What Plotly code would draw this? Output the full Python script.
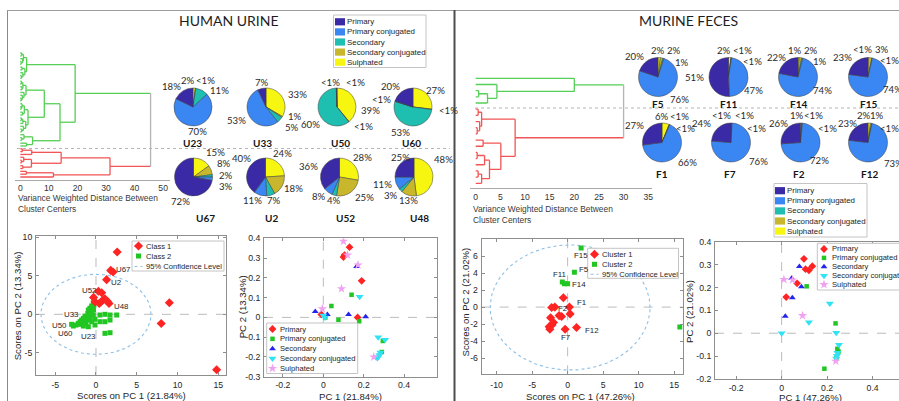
import numpy as np
import plotly.graph_objects as go

W, H = 899, 401

# ---------------- bile acid class composition (%) ----------------
classes = ["Primary", "Primary conjugated", "Secondary",
           "Secondary conjugated", "Sulphated"]
class_colors = ["#3b2aa6", "#3a87f3", "#1ebfb1", "#c8b72d", "#f6f610"]

urine_ids = ["U23", "U33", "U50", "U60", "U67", "U2", "U52", "U48"]
urine_pct = [
    [18, 70, 11, 0.4, 2],
    [7, 53, 5, 1, 33],
    [0.3, 0.3, 60, 0.3, 39],
    [20, 0.3, 53, 0.3, 27],
    [72, 3, 2, 8, 15],
    [40, 11, 7, 18, 24],
    [36, 8, 4, 25, 28],
    [25, 11, 3, 13, 48],
]
feces_ids = ["F5", "F11", "F14", "F15", "F1", "F7", "F2", "F12"]
feces_pct = [
    [20, 76, 1, 2, 2],
    [51, 47, 0.3, 0.3, 2],
    [22, 74, 1, 2, 1],
    [23, 74, 0.3, 3, 0.3],
    [27, 66, 0.3, 0.3, 6],
    [24, 76, 0.3, 0.3, 0.3],
    [26, 72, 0.3, 0.3, 1],
    [23, 73, 0.3, 1, 2],
]

# ---------------- hierarchical clustering: [merge distance, upper, lower] ----------------
o = None  # a single sample
urine_tree = [45.6,
              [19.2,
               [2.2, [1.1, [0.5, o, o], [0.8, o, [0.3, o, o]]],
                     [1.6, [0.6, o, o], [0.9, o, [0.4, o, o]]]],
               [13.9,
                [8.4,
                 [2.0, [0.9, [0.4, o, o], [0.6, o, o]], [1.3, o, [0.7, o, [0.3, o, o]]]],
                 [2.7, [1.4, [0.6, o, [0.3, o, o]], [0.8, o, o]],
                       [1.9, [0.9, [0.4, o, o], o], [1.1, o, [0.5, o, o]]]]],
                [4.3, [1.3, o, [0.5, o, o]], [2.2, o, o]]]],
              [31.4,
               [14.3, [4.0, [0.7, o, o], o], [3.9, [1.2, o, [0.4, o, o]], [0.9, o, o]]],
               [11.6, [2.1, o, o], o]]]
feces_tree = [30.0,
              [20.0, o, [4.3, o, [2.4, [0.6, o, o], o]]],
              [8.0,
               [1.2, [0.5, o, o], [0.8, o, [0.3, o, o]]],
               [5.1, [1.5, o, o], [2.8, [1.8, [0.3, o, o], o], [1.2, [0.5, o, o], o]]]]]

urine_dendro_ticks = [0, 10, 20, 30, 40, 50]
feces_dendro_ticks = [0, 5, 10, 15, 20, 25, 30, 35]

# ---------------- PCA scores ----------------
urine_class1_pc1 = [2.6, 1.8, 2.1, 1.3, 0.3, 0.7, -0.3, -0.1, 0.6, 0.9, 1.1, 1.4, 1.6, 0.4, 9.0, 8.0, 14.8]
urine_class1_pc2 = [8.1, 5.7, 5.5, 4.5, 3.0, 2.8, 2.2, 1.6, 1.6, 1.9, 2.0, 1.7, 1.4, 1.4, 1.5, -1.2, -7.2]
urine_class2_pc1 = [-0.33, -0.53, -0.74, -0.94, -0.41, -0.25, -0.61, -0.82, -1.14, -1.35, -1.55, -1.76,
                    -1.96, -2.17, -2.45, -2.78, -2.99, -1.06, -0.74, -0.33, -1.23, -0.94, -1.55, -0.53,
                    -0.12, 0.49, 1.10, 1.72, 2.54, 0.49, 1.10, 1.72, -0.12, 1.10, 1.72,
                    -0.5, -1.0, -0.7, -1.3, -2.0, -1.8, -0.3]
urine_class2_pc2 = [1.51, 1.08, 0.78, 0.56, 0.91, 1.21, 0.34, 0.04, -0.31, -0.22, -0.52, -0.74,
                    -0.96, -1.17, -1.39, -1.52, -1.30, -0.74, -0.52, -0.09, -1.17, -1.61, -1.52, -0.96,
                    -0.65, -0.09, 0.0, -0.09, -0.09, -0.96, -0.96, -0.74, -1.39, -2.47, -2.39,
                    0.3, 0.1, -0.2, -0.8, -1.3, -1.0, 0.6]
urine_ellipse = dict(cx=0.0, cy=0.0, a=6.75, b=5.2)
urine_score_xticks = [-5, 0, 5, 10, 15]
urine_score_yticks = [-5, 0, 5, 10]
urine_tags = ["U67", "U2", "U52", "U48", "U33", "U50", "U60", "U23"]

feces_cluster1_pc1 = [-0.6, -2.25, -1.8, 0.25, 0.35, -1.2, -0.85, -2.4, -2.0, -2.2, -2.6, -2.5, -0.35, 1.25]
feces_cluster1_pc2 = [1.1, -0.05, 0.0, 0.0, -0.8, -1.0, -1.1, -1.25, -1.8, -2.1, -2.3, -2.6, -2.6, -2.4]
feces_cluster2_pc1 = [1.9, 0.95, -0.75, -0.45, 0.0, 15.8]
feces_cluster2_pc2 = [6.95, 4.1, 2.95, 2.75, 2.75, -2.35]
feces_ellipse = dict(cx=0.35, cy=-0.05, a=11.25, b=7.35)
feces_score_xticks = [-10, -5, 0, 5, 10, 15]
feces_score_yticks = [-6, -4, -2, 0, 2, 4, 6]
feces_tags = ["F15", "F5", "F11", "F14", "F1", "F2", "F12", "F7"]

# ---------------- PCA loadings ----------------
urine_load = {
    "Primary": ([0.13, 0.105, 0.10, 0.19, -0.01, 0.17],
                [0.355, 0.315, 0.305, 0.185, 0.015, 0.0]),
    "Primary conjugated": ([0.14, 0.04, 0.01, 0.075, 0.178, 0.295, 0.29],
                           [0.115, 0.058, 0.0, -0.012, -0.02, -0.12, -0.175]),
    "Secondary": ([0.165, -0.04, 0.02, 0.125, 0.21],
                  [0.258, 0.03, 0.015, 0.015, 0.003]),
    "Secondary conjugated": ([0.18, 0.0, 0.008, 0.272, 0.306, 0.283, 0.278, 0.272, 0.268],
                             [0.105, 0.01, 0.0, -0.1, -0.113, -0.178, -0.19, -0.2, -0.205]),
    "Sulphated": ([0.1, 0.12, 0.172, 0.09, -0.005, 0.25],
                  [0.385, 0.315, 0.265, 0.145, 0.043, -0.2]),
}
feces_load = {
    "Primary": ([0.098, 0.105, 0.12, 0.135, 0.068, 0.02],
                [0.325, 0.28, 0.275, 0.293, 0.218, 0.158]),
    "Primary conjugated": ([0.11, 0.237, 0.245, 0.25, 0.24, 0.188],
                           [0.205, 0.043, -0.068, -0.08, -0.11, -0.155]),
    "Secondary": ([0.078, 0.044, 0.087, 0.047, 0.016],
                  [0.292, 0.24, 0.203, 0.155, 0.074]),
    "Secondary conjugated": ([0.212, 0.12, 0.0, 0.24, 0.252, 0.245, 0.243, 0.24],
                             [0.13, 0.048, 0.0, 0.002, -0.05, -0.085, -0.098, -0.11]),
    "Sulphated": ([0.01, 0.048, 0.092, 0.238],
                  [0.235, 0.233, 0.077, -0.122]),
}
load_xticks = [-0.2, 0, 0.2, 0.4]
urine_load_yticks = [-0.3, -0.2, -0.1, 0, 0.1, 0.2, 0.3, 0.4]
feces_load_yticks = [-0.2, -0.1, 0, 0.1, 0.2, 0.3, 0.4]

# ---------------- styling ----------------
SANS = "Liberation Sans, Arial, sans-serif"
CAL = "Lato, Open Sans, sans-serif"
AX = "#8e8e8e"
TXT = "#262626"
GRAY = "#b4b4b4"

class1_mark = dict(symbol="diamond", size=7, color="#ff2424", line=dict(width=0))
class2_mark = dict(symbol="square", size=5, color="#22c622", line=dict(width=0))
load_marks = {
    "Primary": dict(symbol="diamond", size=6, color="#ff2424", line=dict(width=0)),
    "Primary conjugated": dict(symbol="square", size=4.5, color="#22c622", line=dict(width=0)),
    "Secondary": dict(symbol="triangle-up", size=6, color="#2424f0", line=dict(width=0)),
    "Secondary conjugated": dict(symbol="triangle-down", size=7, color="#30e2f2", line=dict(width=0)),
    "Sulphated": dict(symbol="star", size=7, color="#f0a2f0", line=dict(width=0)),
}

# percentage-label placement: small offsets (px) for some labels ...
label_nudge = {
    ("U50", 4): (0, 12), ("U50", 2): (5, 9),
    ("U60", 4): (-6, 0), ("U60", 2): (-8, 1),
    ("U67", 0): (14, 9),
    ("U2", 0): (8, -11), ("U2", 4): (-10, -5), ("U2", 3): (-4, 0), ("U2", 1): (-7, 0),
    ("U52", 4): (-6, -4),
    ("U48", 0): (12, -2), ("U48", 4): (-6, -16),
    ("F11", 1): (-11, 12),
    ("F14", 0): (5, 0), ("F15", 0): (5, 0), ("F12", 0): (5, 0), ("F2", 0): (12, -2),
    ("F7", 0): (2, 0),
    ("F14", 1): (0, -8), ("F15", 1): (0, -8), ("F2", 1): (-9, 0),
}
# ... and fixed label centres (px) for the crowded thin slices near 12 o'clock
label_at = {
    ("U23", 4): (187, 80), ("U23", 3): (204.5, 80), ("U23", 2): (218.5, 91),
    ("U50", 0): (354, 82), ("U50", 1): (329, 82),
    ("F5", 4): (657, 50.7), ("F5", 3): (672.5, 50.7), ("F5", 2): (681, 62.7),
    ("F11", 4): (723, 50.7), ("F11", 3): (741.5, 50.7), ("F11", 2): (751, 61.8),
    ("F14", 4): (793.5, 50), ("F14", 3): (810, 50), ("F14", 2): (819, 61.7),
    ("F15", 4): (861.5, 49), ("F15", 3): (880.5, 49), ("F15", 2): (888.5, 60),
    ("F1", 4): (661, 117), ("F1", 3): (678, 117), ("F1", 2): (684.5, 128),
    ("F7", 4): (720.5, 115), ("F7", 3): (743.5, 115), ("F7", 2): (755.5, 128),
    ("F2", 4): (795.5, 115), ("F2", 3): (812.5, 115), ("F2", 2): (826, 128),
    ("F12", 4): (863, 115), ("F12", 3): (876, 115), ("F12", 2): (888.5, 128),
}

fig = go.Figure()
shapes, anns, axes = [], [], {}


def aref(n):
    return ("x" if n == 1 else f"x{n}"), ("y" if n == 1 else f"y{n}")


def akey(n):
    return ("xaxis" if n == 1 else f"xaxis{n}"), ("yaxis" if n == 1 else f"yaxis{n}")


def xdom(p0, p1):
    return [p0 / W, p1 / W]


def ydom(top, bottom):
    return [1 - bottom / H, 1 - top / H]


def text(x, y, s, size, family=SANS, color=TXT, xanchor="center", yanchor="middle",
         angle=0, bold=False, xref="paper", yref="paper"):
    if xref == "paper":
        x = x / W
    if yref == "paper":
        y = 1 - y / H
    anns.append(dict(x=x, y=y, xref=xref, yref=yref, text=f"<b>{s}</b>" if bold else s,
                     showarrow=False, font=dict(family=family, size=size, color=color),
                     xanchor=xanchor, yanchor=yanchor, textangle=angle, borderpad=0))


def seg(x0, y0, x1, y1, color, width=1, dash="solid"):
    shapes.append(dict(type="line", xref="paper", yref="paper", x0=x0 / W, x1=x1 / W,
                       y0=1 - y0 / H, y1=1 - y1 / H, line=dict(color=color, width=width, dash=dash)))


# ---------------- dendrograms ----------------
def dendro_segments(tree, palette):
    thr = 0.7 * tree[0]
    segs, count, idx = {}, [0], [0]

    def add(color, xs, ys):
        X, Y = segs.setdefault(color, ([], []))
        X.extend(xs + [None])
        Y.extend(ys + [None])

    def walk(node, color):
        if node is None:
            y = count[0]
            count[0] += 1
            return y, 0.0, color or GRAY
        h = node[0]
        if color is None and h <= thr:
            color = palette[idx[0]]
            idx[0] += 1
        mine = color or GRAY
        kids = [walk(ch, color) for ch in node[1:]]
        for yc, hc, cc in kids:
            add(cc, [hc, h], [yc, yc])
        add(mine, [h, h], [kids[0][0], kids[-1][0]])
        return (kids[0][0] + kids[-1][0]) / 2, h, mine

    walk(tree, None)
    return segs, count[0]


def draw_dendro(n, tree, xpx, ypx, x_zero_px, px_per_unit, leaf_px, ticks):
    rx, ry = aref(n)
    kx, ky = akey(n)
    segs, nleaf = dendro_segments(tree, ["#55cf55", "#f25555"])
    for color, (xs, ys) in segs.items():
        fig.add_trace(go.Scatter(x=xs, y=ys, mode="lines", line=dict(color=color, width=1.3),
                                 xaxis=rx, yaxis=ry, hoverinfo="skip"))
    axes[kx] = dict(domain=xdom(*xpx), anchor=ry,
                    range=[(xpx[0] - x_zero_px) / px_per_unit, (xpx[1] - x_zero_px) / px_per_unit],
                    showline=True, linecolor="#a8a8a8", linewidth=1, ticks="", showgrid=False,
                    zeroline=False, tickvals=ticks, ticktext=[str(t) for t in ticks],
                    tickfont=dict(family=SANS, size=8.6, color="#333"), fixedrange=True)
    ppl = (leaf_px[1] - leaf_px[0]) / (nleaf - 1)
    axes[ky] = dict(domain=ydom(*ypx), anchor=rx, visible=False, fixedrange=True,
                    range=[nleaf - 1 + (ypx[1] - leaf_px[1]) / ppl, -(leaf_px[0] - ypx[0]) / ppl])


draw_dendro(1, urine_tree, (15, 170), (48, 180), 20.3, 2.857, (53, 177), urine_dendro_ticks)
draw_dendro(2, feces_tree, (470, 652), (72, 188.3), 475.7, 4.93, (78.3, 183.3), feces_dendro_ticks)

for x0, y0 in [(17, 197.5), (472, 209)]:
    text(x0, y0, "Variance Weighted Distance Between", 8.4, SANS, "#3a3a3a", xanchor="left")
    text(x0, y0 + 11, "Cluster Centers", 8.4, SANS, "#3a3a3a", xanchor="left")


# ---------------- pies: first class begins at 12 o'clock and runs counter-clockwise ----------------
def pie_labels(sid, cx, cy, r, vals, size):
    tot = float(sum(vals))
    acc = 0.0
    out = []
    for k, v in enumerate(vals):
        mid = np.radians(90 + (acc + v / 2) / tot * 360)
        acc += v
        c, s = np.cos(mid), np.sin(mid)
        txt = "<1%" if v < 1 else f"{round(v)}%"
        w = size * (0.56 * (len(txt) - 1) + 0.85)
        if (sid, k) in label_at:
            xc, yc = label_at[(sid, k)]
            out.append(dict(txt=txt, l=xc - w / 2, w=w, y=yc, s=s, fixed=True))
            continue
        x, y = cx + 1.3 * r * c, cy - 1.3 * r * s
        left = x - w if c < -0.3 else (x if c > 0.3 else x - w / 2)
        dx, dy = label_nudge.get((sid, k), (0, 0))
        out.append(dict(txt=txt, l=left + dx, w=w, y=y + dy, s=s, fixed=False))
    # push apart any remaining overlapping labels
    for _ in range(40):
        moved = False
        for i in range(len(out)):
            for j in range(i + 1, len(out)):
                a, b = out[i], out[j]
                if a["fixed"] and b["fixed"]:
                    continue
                ox = min(a["l"] + a["w"], b["l"] + b["w"]) - max(a["l"], b["l"])
                oy = 11 - abs(a["y"] - b["y"])
                if ox <= 0 or oy <= 0:
                    continue
                moved = True
                fa = 0.0 if a["fixed"] else (1.0 if b["fixed"] else 0.5)
                fb = 1.0 - fa
                if abs(a["s"]) > 0.6 and abs(b["s"]) > 0.6:
                    d = ox + 1.5
                    if a["l"] + a["w"] / 2 < b["l"] + b["w"] / 2:
                        a["l"] -= d * fa
                        b["l"] += d * fb
                    else:
                        a["l"] += d * fa
                        b["l"] -= d * fb
                else:
                    d = oy + 0.5
                    if a["y"] <= b["y"]:
                        a["y"] -= d * fa
                        b["y"] += d * fb
                    else:
                        a["y"] += d * fa
                        b["y"] -= d * fb
        if not moved:
            break
    return out


def draw_pies(ids, pcts, centers, r, names):
    for sid, vals, (cx, cy), (nx, ny) in zip(ids, pcts, centers, names):
        # clockwise from 12 o'clock with the class order reversed == counter-clockwise in class order
        fig.add_trace(go.Pie(values=vals[::-1], labels=classes[::-1], sort=False,
                             direction="clockwise", rotation=0, textinfo="none",
                             hoverinfo="label+value", showlegend=False,
                             marker=dict(colors=class_colors[::-1],
                                         line=dict(color="#3c3c3c", width=0.5)),
                             domain=dict(x=xdom(cx - r, cx + r), y=ydom(cy - r, cy + r))))
        for lab in pie_labels(sid, cx, cy, r, vals, 9.6):
            text(lab["l"], lab["y"], lab["txt"], 9.6, CAL, "#2a2a2a", xanchor="left")
        text(nx, ny, sid, 10, CAL, "#161616", bold=True)


draw_pies(urine_ids, urine_pct,
          [(193, 107), (266, 107), (337, 107), (413, 107),
           (193.5, 177), (265.5, 177), (339.5, 177), (414, 177)], 19,
          [(192.5, 143), (262.5, 143), (340, 143), (411.5, 143),
           (205, 218), (271, 218), (345, 218), (419, 218)])
draw_pies(feces_ids, feces_pct,
          [(658, 77), (728.5, 77), (798, 77), (868, 77),
           (662, 142.5), (731, 142.5), (800.5, 142.5), (868, 142.5)], 19.5,
          [(658, 103.5), (728, 103.5), (798, 103.5), (868, 103.5),
           (662, 174), (730, 174), (799, 174), (869, 174)])


def pie_legend(x0, y0, x1, y1, first_row, sw_x, txt_x):
    shapes.append(dict(type="rect", xref="paper", yref="paper", x0=x0 / W, x1=x1 / W,
                       y0=1 - y1 / H, y1=1 - y0 / H, fillcolor="white",
                       line=dict(color="#c4c4c4", width=1)))
    for i, (name, col) in enumerate(zip(classes, class_colors)):
        yy = first_row + 10.1 * i
        shapes.append(dict(type="rect", xref="paper", yref="paper", x0=sw_x / W, x1=(sw_x + 10) / W,
                           y0=1 - (yy + 3.6) / H, y1=1 - (yy - 3.6) / H, fillcolor=col,
                           line=dict(width=0)))
        text(txt_x, yy, name, 7.9, SANS, "#1e1e1e", xanchor="left")


pie_legend(333.5, 15, 426, 67.5, 21.8, 335, 345.5)
pie_legend(774, 183.5, 867, 237, 190.7, 775, 785.5)

text(229.5, 20.5, "HUMAN URINE", 14, CAL, "#1e1e1e")
text(688.5, 20.5, "MURINE FECES", 14, CAL, "#1e1e1e")


# ---------------- scatter panels ----------------
def frame(n, xpx, ypx, xr, yr, xt, yt, mirror_y="ticks", x_standoff=2):
    rx, ry = aref(n)
    kx, ky = akey(n)
    common = dict(showline=True, linecolor=AX, linewidth=1, ticks="inside", ticklen=3,
                  tickcolor=AX, tickwidth=1, showgrid=False, zeroline=False, fixedrange=True,
                  tickfont=dict(family=SANS, size=8.7, color=TXT))
    axes[kx] = dict(common, domain=xdom(*xpx), range=xr, anchor=ry, mirror="ticks",
                    tickvals=xt, ticktext=[f"{v:g}" for v in xt], ticklabelstandoff=x_standoff)
    axes[ky] = dict(common, domain=ydom(*ypx), range=yr, anchor=rx, mirror=mirror_y,
                    tickvals=yt, ticktext=[f"{v:g}" for v in yt], ticklabelstandoff=1)
    zl = dict(color="#bcbcbc", width=1, dash="dash")
    shapes.append(dict(type="line", xref=rx, yref=f"{ry} domain", x0=0, x1=0, y0=0, y1=1,
                       line=zl, layer="below"))
    shapes.append(dict(type="line", xref=f"{rx} domain", yref=ry, x0=0, x1=1, y0=0, y1=0,
                       line=zl, layer="below"))


def points(n, xs, ys, mark):
    rx, ry = aref(n)
    fig.add_trace(go.Scatter(x=xs, y=ys, mode="markers", marker=mark, xaxis=rx, yaxis=ry,
                             hoverinfo="x+y"))


def ellipse(n, e):
    rx, ry = aref(n)
    t = np.linspace(0, 2 * np.pi, 241)
    fig.add_trace(go.Scatter(x=e["cx"] + e["a"] * np.cos(t), y=e["cy"] + e["b"] * np.sin(t),
                             mode="lines", line=dict(color="#8cc0e8", width=1.1, dash="dot"),
                             xaxis=rx, yaxis=ry, hoverinfo="skip"))


frame(3, (36, 226), (236, 375), [-7.36, 15.95], [-7.88, 10.17], urine_score_xticks, urine_score_yticks)
frame(4, (264, 436.7), (238.3, 376.7), [-0.294, 0.562], [-0.3, 0.4], load_xticks, urine_load_yticks,
      x_standoff=0)
frame(5, (481.7, 682.7), (239, 374.3), [-12.1, 16.2], [-7.9, 8.0], feces_score_xticks, feces_score_yticks)
frame(6, (715, 899), (241.7, 379), [-0.293, 0.516], [-0.2, 0.4], load_xticks, feces_load_yticks,
      mirror_y=False, x_standoff=1)

ellipse(3, urine_ellipse)
points(3, urine_class2_pc1, urine_class2_pc2, class2_mark)
points(3, urine_class1_pc1, urine_class1_pc2, class1_mark)
ellipse(5, feces_ellipse)
points(5, feces_cluster1_pc1, feces_cluster1_pc2, class1_mark)
points(5, feces_cluster2_pc1, feces_cluster2_pc2, class2_mark)
for name in classes:
    points(4, *urine_load[name], load_marks[name])
    points(6, *feces_load[name], load_marks[name])

# sample tags next to the score points
tag_font = 7.9
for tag, (x, y, anc) in zip(urine_tags, [(2.33, 5.84, "left"), (1.72, 4.1, "left"), (0.08, 3.03, "right"),
                                          (2.13, 1.08, "left"), (-1.96, 0.04, "right"),
                                          (-3.38, -1.39, "right"), (-2.7, -2.47, "right"),
                                          (0.08, -2.82, "right")]):
    text(x, y, tag, tag_font, SANS, TXT, xanchor=anc, xref="x3", yref="y3")
for tag, (x, y, anc) in zip(feces_tags, [(1.87, 6.1, "center"), (1.4, 4.45, "left"), (-0.14, 3.83, "right"),
                                          (0.47, 2.7, "left"), (1.13, 0.5, "left"), (-0.69, -0.16, "center"),
                                          (2.34, -2.8, "left"), (-0.27, -3.6, "center")]):
    text(x, y, tag, tag_font, SANS, TXT, xanchor=anc, xref="x5", yref="y5")

# axis titles
text(131, 395.5, "Scores on PC 1 (21.84%)", 9.6)
text(17.3, 306, "Scores on PC 2 (13.34%)", 9.6, angle=-90)
text(350, 396.2, "PC 1 (21.84%)", 9.6)
text(242.3, 307, "PC 2 (13.34%)", 9.6, angle=-90)
text(580.8, 396.3, "Scores on PC 1 (47.26%)", 9.6)
text(465, 302.5, "Scores on PC 2 (21.02%)", 9.6, angle=-90)
text(810, 397, "PC 1 (47.26%)", 9.6)
text(689, 312, "PC 2 (21.02%)", 9.6, angle=-90)

# ---------------- in-axes legends (pixel overlay) ----------------
axes["xaxis7"] = dict(domain=[0, 1], range=[0, W], visible=False, fixedrange=True, anchor="y7")
axes["yaxis7"] = dict(domain=[0, 1], range=[H, 0], visible=False, fixedrange=True, anchor="x7")


def overlay(xs, ys, **kw):
    fig.add_trace(go.Scatter(x=xs, y=ys, xaxis="x7", yaxis="y7", hoverinfo="skip", **kw))


def scatter_legend(box, rows, mark_x, txt_x):
    x0, y0, x1, y1 = box
    overlay([x0, x1, x1, x0, x0], [y0, y0, y1, y1, y0], mode="lines", fill="toself",
            fillcolor="white", line=dict(color="#c4c4c4", width=1))
    for label, mark, yy in rows:
        if mark is None:
            overlay([mark_x - 4, mark_x + 4], [yy, yy], mode="lines",
                    line=dict(color="#8cc0e8", width=1.1, dash="dot"))
        else:
            overlay([mark_x], [yy], mode="markers", marker=mark)
        text(txt_x, yy, label, 7.6, SANS, "#1e1e1e", xanchor="left")


scatter_legend((132, 241, 224, 271),
               [("Class 1", class1_mark, 246), ("Class 2", class2_mark, 256),
                ("95% Confidence Level", None, 266.5)], 138.5, 144.5)
scatter_legend((587.7, 248.3, 678.5, 278.3),
               [("Cluster 1", class1_mark, 254.3), ("Cluster 2", class2_mark, 264.3),
                ("95% Confidence Level", None, 274.3)], 594.5, 600.7)
scatter_legend((266.7, 323, 357.7, 373.5),
               [(c, load_marks[c], 329 + 9.85 * i) for i, c in enumerate(classes)], 272.5, 279.3)
scatter_legend((817.3, 243.3, 912, 290),
               [(c, load_marks[c], 249 + 8.9 * i) for i, c in enumerate(classes)], 824, 830.7)

# ---------------- panel frames and cut lines ----------------
seg(7.5, 10, 7.5, H, "#8a8a8a")
seg(7, 10.5, W, 10.5, "#9c9c9c")
seg(454.5, 10, 454.5, H, "#4d4d4d", width=2)
seg(17, 148.5, 450, 148.5, "#b4b4b4", dash="dot")
seg(475, 108, W, 108, "#b4b4b4", dash="dot")

fig.update_layout(width=W, height=H, autosize=False, template="none",
                  margin=dict(l=0, r=0, t=0, b=0), paper_bgcolor="white",
                  plot_bgcolor="rgba(0,0,0,0)", showlegend=False,
                  shapes=shapes, annotations=anns, **axes)
fig.write_html("out.html", config={"displayModeBar": False})
